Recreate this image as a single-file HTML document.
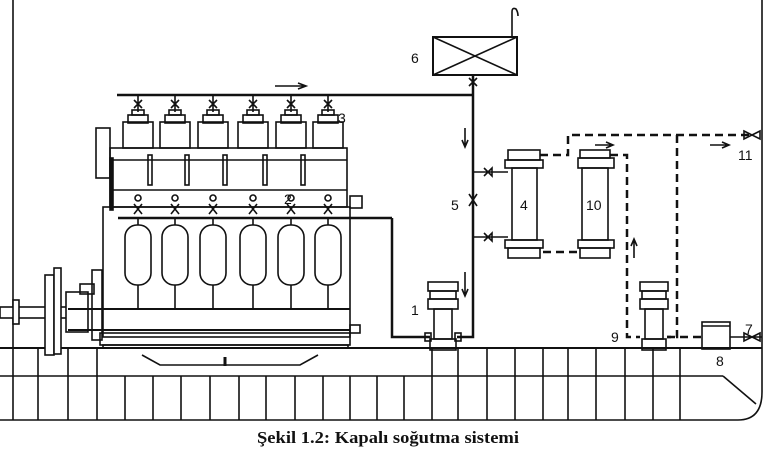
<!DOCTYPE html>
<html><head><meta charset="utf-8"><style>
html,body{margin:0;padding:0;background:#fff;}
svg{display:block;}
.t{font-family:"Liberation Sans",sans-serif;font-size:14px;fill:#111;}
</style></head><body>
<svg width="769" height="451" viewBox="0 0 769 451" xmlns="http://www.w3.org/2000/svg" fill="none" stroke="#111" stroke-width="1.6">
<!-- hull -->
<line x1="13" y1="0" x2="13" y2="420"/>
<path d="M762 0 V392 Q762 420 738 420 L0 420"/>
<line x1="0" y1="348" x2="762" y2="348" stroke-width="2"/>
<line x1="0" y1="376" x2="723" y2="376"/>
<path d="M723 376 L756 404"/>
<g>
<line x1="38" y1="348" x2="38" y2="420"/><line x1="68" y1="348" x2="68" y2="420"/><line x1="97" y1="348" x2="97" y2="420"/>
<line x1="125" y1="376" x2="125" y2="420"/><line x1="153" y1="376" x2="153" y2="420"/><line x1="181" y1="376" x2="181" y2="420"/>
<line x1="210" y1="376" x2="210" y2="420"/><line x1="239" y1="376" x2="239" y2="420"/><line x1="266" y1="376" x2="266" y2="420"/>
<line x1="295" y1="376" x2="295" y2="420"/><line x1="323" y1="376" x2="323" y2="420"/><line x1="350" y1="376" x2="350" y2="420"/>
<line x1="377" y1="376" x2="377" y2="420"/><line x1="404" y1="376" x2="404" y2="420"/><line x1="432" y1="348" x2="432" y2="420"/>
<line x1="458" y1="348" x2="458" y2="420"/><line x1="487" y1="348" x2="487" y2="420"/><line x1="515" y1="348" x2="515" y2="420"/>
<line x1="543" y1="348" x2="543" y2="420"/><line x1="568" y1="348" x2="568" y2="420"/><line x1="596" y1="348" x2="596" y2="420"/>
<line x1="625" y1="348" x2="625" y2="420"/><line x1="653" y1="348" x2="653" y2="420"/><line x1="680" y1="348" x2="680" y2="420"/>
</g>
<!-- shaft & flywheel -->
<rect x="0" y="307" width="68" height="11" fill="#fff"/>
<rect x="13" y="300" width="6" height="24" fill="#fff"/>
<rect x="45" y="275" width="9" height="80" fill="#fff"/>
<rect x="54" y="268" width="7" height="86" fill="#fff"/>
<rect x="66" y="292" width="22" height="40" fill="#fff"/>
<rect x="80" y="284" width="14" height="10"/>
<rect x="92" y="270" width="10" height="70"/>
<!-- engine -->
<line x1="117" y1="95" x2="473" y2="95" stroke-width="2.5"/>
<path d="M275 86 H305 M298 83 L306 86 L298 89"/>
<rect x="103" y="207" width="247" height="130"/>
<line x1="68" y1="309" x2="350" y2="309" stroke-width="2"/>
<line x1="68" y1="330" x2="350" y2="330" stroke-width="2"/>
<rect x="100" y="333" width="250" height="12"/>
<rect x="103" y="345" width="245" height="3"/>
<path d="M142 355 L160 365 H300 L318 355"/>
<line x1="225" y1="357" x2="225" y2="366" stroke-width="3"/>
<rect x="350" y="325" width="10" height="8"/>
<rect x="110" y="148" width="237" height="59"/>
<line x1="110" y1="160" x2="347" y2="160"/>
<line x1="110" y1="190" x2="347" y2="190"/>
<rect x="96" y="128" width="14" height="50"/>
<rect x="110" y="158" width="3" height="52" fill="#111"/>
<rect x="350" y="196" width="12" height="12"/>
<line x1="118" y1="218" x2="392" y2="218" stroke-width="2.5"/>
<path d="M392 218 V337 H430" stroke-width="2.5"/>
<g stroke-width="1.6">
<g transform="translate(138,0)"><path d="M0 95V112 M-4 100 L4 108 M4 100 L-4 108"/><rect x="-15" y="122" width="30" height="26"/><rect x="-10" y="115" width="20" height="8"/><rect x="-6" y="110" width="12" height="5"/><rect x="10" y="155" width="4" height="30"/><circle cx="0" cy="198" r="3"/><path d="M-4 204 L4 214 M4 204 L-4 214"/><line x1="0" y1="218" x2="0" y2="225"/><rect x="-13" y="225" width="26" height="60" rx="12"/><line x1="0" y1="285" x2="0" y2="309"/></g>
<g transform="translate(175,0)"><path d="M0 95V112 M-4 100 L4 108 M4 100 L-4 108"/><rect x="-15" y="122" width="30" height="26"/><rect x="-10" y="115" width="20" height="8"/><rect x="-6" y="110" width="12" height="5"/><rect x="10" y="155" width="4" height="30"/><circle cx="0" cy="198" r="3"/><path d="M-4 204 L4 214 M4 204 L-4 214"/><line x1="0" y1="218" x2="0" y2="225"/><rect x="-13" y="225" width="26" height="60" rx="12"/><line x1="0" y1="285" x2="0" y2="309"/></g>
<g transform="translate(213,0)"><path d="M0 95V112 M-4 100 L4 108 M4 100 L-4 108"/><rect x="-15" y="122" width="30" height="26"/><rect x="-10" y="115" width="20" height="8"/><rect x="-6" y="110" width="12" height="5"/><rect x="10" y="155" width="4" height="30"/><circle cx="0" cy="198" r="3"/><path d="M-4 204 L4 214 M4 204 L-4 214"/><line x1="0" y1="218" x2="0" y2="225"/><rect x="-13" y="225" width="26" height="60" rx="12"/><line x1="0" y1="285" x2="0" y2="309"/></g>
<g transform="translate(253,0)"><path d="M0 95V112 M-4 100 L4 108 M4 100 L-4 108"/><rect x="-15" y="122" width="30" height="26"/><rect x="-10" y="115" width="20" height="8"/><rect x="-6" y="110" width="12" height="5"/><rect x="10" y="155" width="4" height="30"/><circle cx="0" cy="198" r="3"/><path d="M-4 204 L4 214 M4 204 L-4 214"/><line x1="0" y1="218" x2="0" y2="225"/><rect x="-13" y="225" width="26" height="60" rx="12"/><line x1="0" y1="285" x2="0" y2="309"/></g>
<g transform="translate(291,0)"><path d="M0 95V112 M-4 100 L4 108 M4 100 L-4 108"/><rect x="-15" y="122" width="30" height="26"/><rect x="-10" y="115" width="20" height="8"/><rect x="-6" y="110" width="12" height="5"/><rect x="10" y="155" width="4" height="30"/><circle cx="0" cy="198" r="3"/><path d="M-4 204 L4 214 M4 204 L-4 214"/><line x1="0" y1="218" x2="0" y2="225"/><rect x="-13" y="225" width="26" height="60" rx="12"/><line x1="0" y1="285" x2="0" y2="309"/></g>
<g transform="translate(328,0)"><path d="M0 95V112 M-4 100 L4 108 M4 100 L-4 108"/><rect x="-15" y="122" width="30" height="26"/><rect x="-10" y="115" width="20" height="8"/><rect x="-6" y="110" width="12" height="5"/><circle cx="0" cy="198" r="3"/><path d="M-4 204 L4 214 M4 204 L-4 214"/><line x1="0" y1="218" x2="0" y2="225"/><rect x="-13" y="225" width="26" height="60" rx="12"/><line x1="0" y1="285" x2="0" y2="309"/></g>
</g>
<!-- tank 6 -->
<rect x="433" y="37" width="84" height="38" stroke-width="2"/>
<path d="M433 37 L517 75 M517 37 L433 75"/>
<path d="M512 37 V12 Q512 7 516 9 Q518 12 518 16"/>
<path d="M473 75 V337 H457" stroke-width="2.5"/>
<path d="M469 78 L477 86 M477 78 L469 86"/>
<path d="M469 194 L477 206 M477 194 L469 206"/>
<path d="M465 128 V146 M462 140 L465 147 L468 140"/>
<path d="M465 272 V295 M462 289 L465 296 L468 289"/>
<path d="M473 172 H508 M484 168 L492 176 V168 L484 176" />
<path d="M473 237 H508 M484 233 L492 241 V233 L484 241"/>
<!-- cooler 4 -->
<rect x="508" y="150" width="32" height="10"/><rect x="505" y="160" width="38" height="8"/>
<rect x="512" y="168" width="25" height="72"/>
<rect x="505" y="240" width="38" height="8"/><rect x="508" y="248" width="32" height="10"/>
<!-- cooler 10 -->
<rect x="580" y="150" width="30" height="8"/><rect x="578" y="158" width="36" height="10"/>
<rect x="582" y="168" width="26" height="72"/>
<rect x="578" y="240" width="36" height="8"/><rect x="580" y="248" width="30" height="10"/>
<g stroke-width="2.5" stroke-dasharray="8,5">
<path d="M540 155 H568 V135 H752"/>
<path d="M610 155 H627 V337 H640"/>
<path d="M677 135 V337 H667"/>
<path d="M543 252 H578"/>
<path d="M667 337 H702"/>
</g>
<path d="M595 145 H612 M606 142 L613 145 L606 148"/>
<path d="M710 145 H728 M722 142 L729 145 L722 148"/>
<path d="M634 258 V240 M631 246 L634 239 L637 246"/>
<path d="M744 131 L752 135 L744 139 Z M760 131 L752 135 L760 139 Z"/>
<!-- pump 1 -->
<rect x="428" y="282" width="30" height="9"/><rect x="430" y="291" width="26" height="8"/><rect x="428" y="299" width="30" height="10"/>
<rect x="434" y="309" width="18" height="30"/><rect x="430" y="339" width="26" height="11"/>
<rect x="425" y="333" width="6" height="8"/><rect x="455" y="333" width="6" height="8"/>
<!-- pump 9 -->
<rect x="640" y="282" width="28" height="9"/><rect x="642" y="291" width="24" height="8"/><rect x="640" y="299" width="28" height="10"/>
<rect x="645" y="309" width="18" height="30"/><rect x="642" y="339" width="24" height="11"/>
<!-- filter 8 -->
<rect x="702" y="322" width="28" height="27"/><line x1="702" y1="326" x2="730" y2="326"/>
<path d="M730 337 H762 M744 333 L752 337 L744 341 Z M760 333 L752 337 L760 341 Z"/>
<g stroke="none" fill="#111">
<text class="t" x="411" y="63">6</text>
<text class="t" x="338" y="123">3</text>
<text class="t" x="284" y="204">2</text>
<text class="t" x="451" y="210">5</text>
<text class="t" x="520" y="210">4</text>
<text class="t" x="586" y="210">10</text>
<text class="t" x="411" y="315">1</text>
<text class="t" x="611" y="342">9</text>
<text class="t" x="716" y="366">8</text>
<text class="t" x="745" y="334">7</text>
<text class="t" x="738" y="160">11</text>
<text x="388" y="443" text-anchor="middle" textLength="262" lengthAdjust="spacingAndGlyphs" style="font-family:'Liberation Serif',serif;font-weight:bold;font-size:17px">Şekil 1.2: Kapalı soğutma sistemi</text>
</g>
</svg>
</body></html>
